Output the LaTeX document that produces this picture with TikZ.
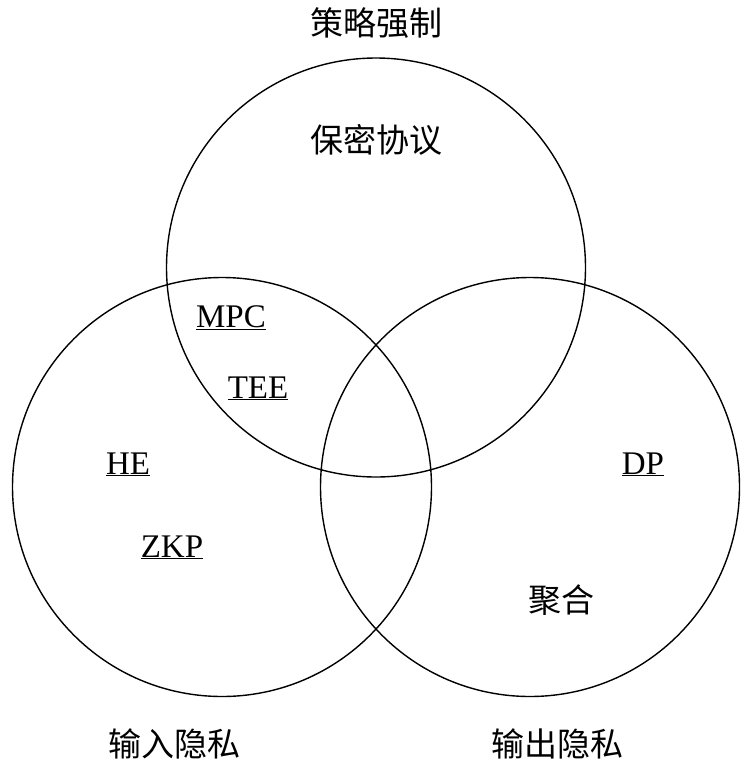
\documentclass[tikz,border=0pt]{standalone}
\usepackage{fontspec}
\setmainfont{Liberation Serif}
\newfontfamily\cjk{Noto Sans CJK SC}
\begin{document}
\begin{tikzpicture}[x=1pt,y=-1pt,
  ring/.style={draw=black,line width=1.4pt},
  zh/.style={font=\cjk\fontsize{33}{36}\selectfont,inner sep=0pt,anchor=base},
  tech/.style={font=\fontsize{33}{38}\selectfont,inner sep=0pt,anchor=base}]
\useasboundingbox (0,0) rectangle (753,769);
\draw[ring] (376,267.5) circle[radius=209.5];
\draw[ring] (222,487) circle[radius=209.5];
\draw[ring] (530,487) circle[radius=209.5];
\node[zh] (policy) at (376,35) {策略强制};
\node[zh] (conf) at (376,152) {保密协议};
\node[zh] (inp) at (174,756) {输入隐私};
\node[zh] (outp) at (557,756) {输出隐私};
\node[zh] (agg) at (561,612) {聚合};
\node[tech] (mpc) at (231,327) {\underline{MPC}};
\node[tech] (tee) at (258,398) {\underline{TEE}};
\node[tech] (he) at (128,474) {\underline{HE}};
\node[tech] (zkp) at (172,557) {\underline{ZKP}};
\node[tech] (dp) at (643,474) {\underline{DP}};
\end{tikzpicture}
\end{document}
